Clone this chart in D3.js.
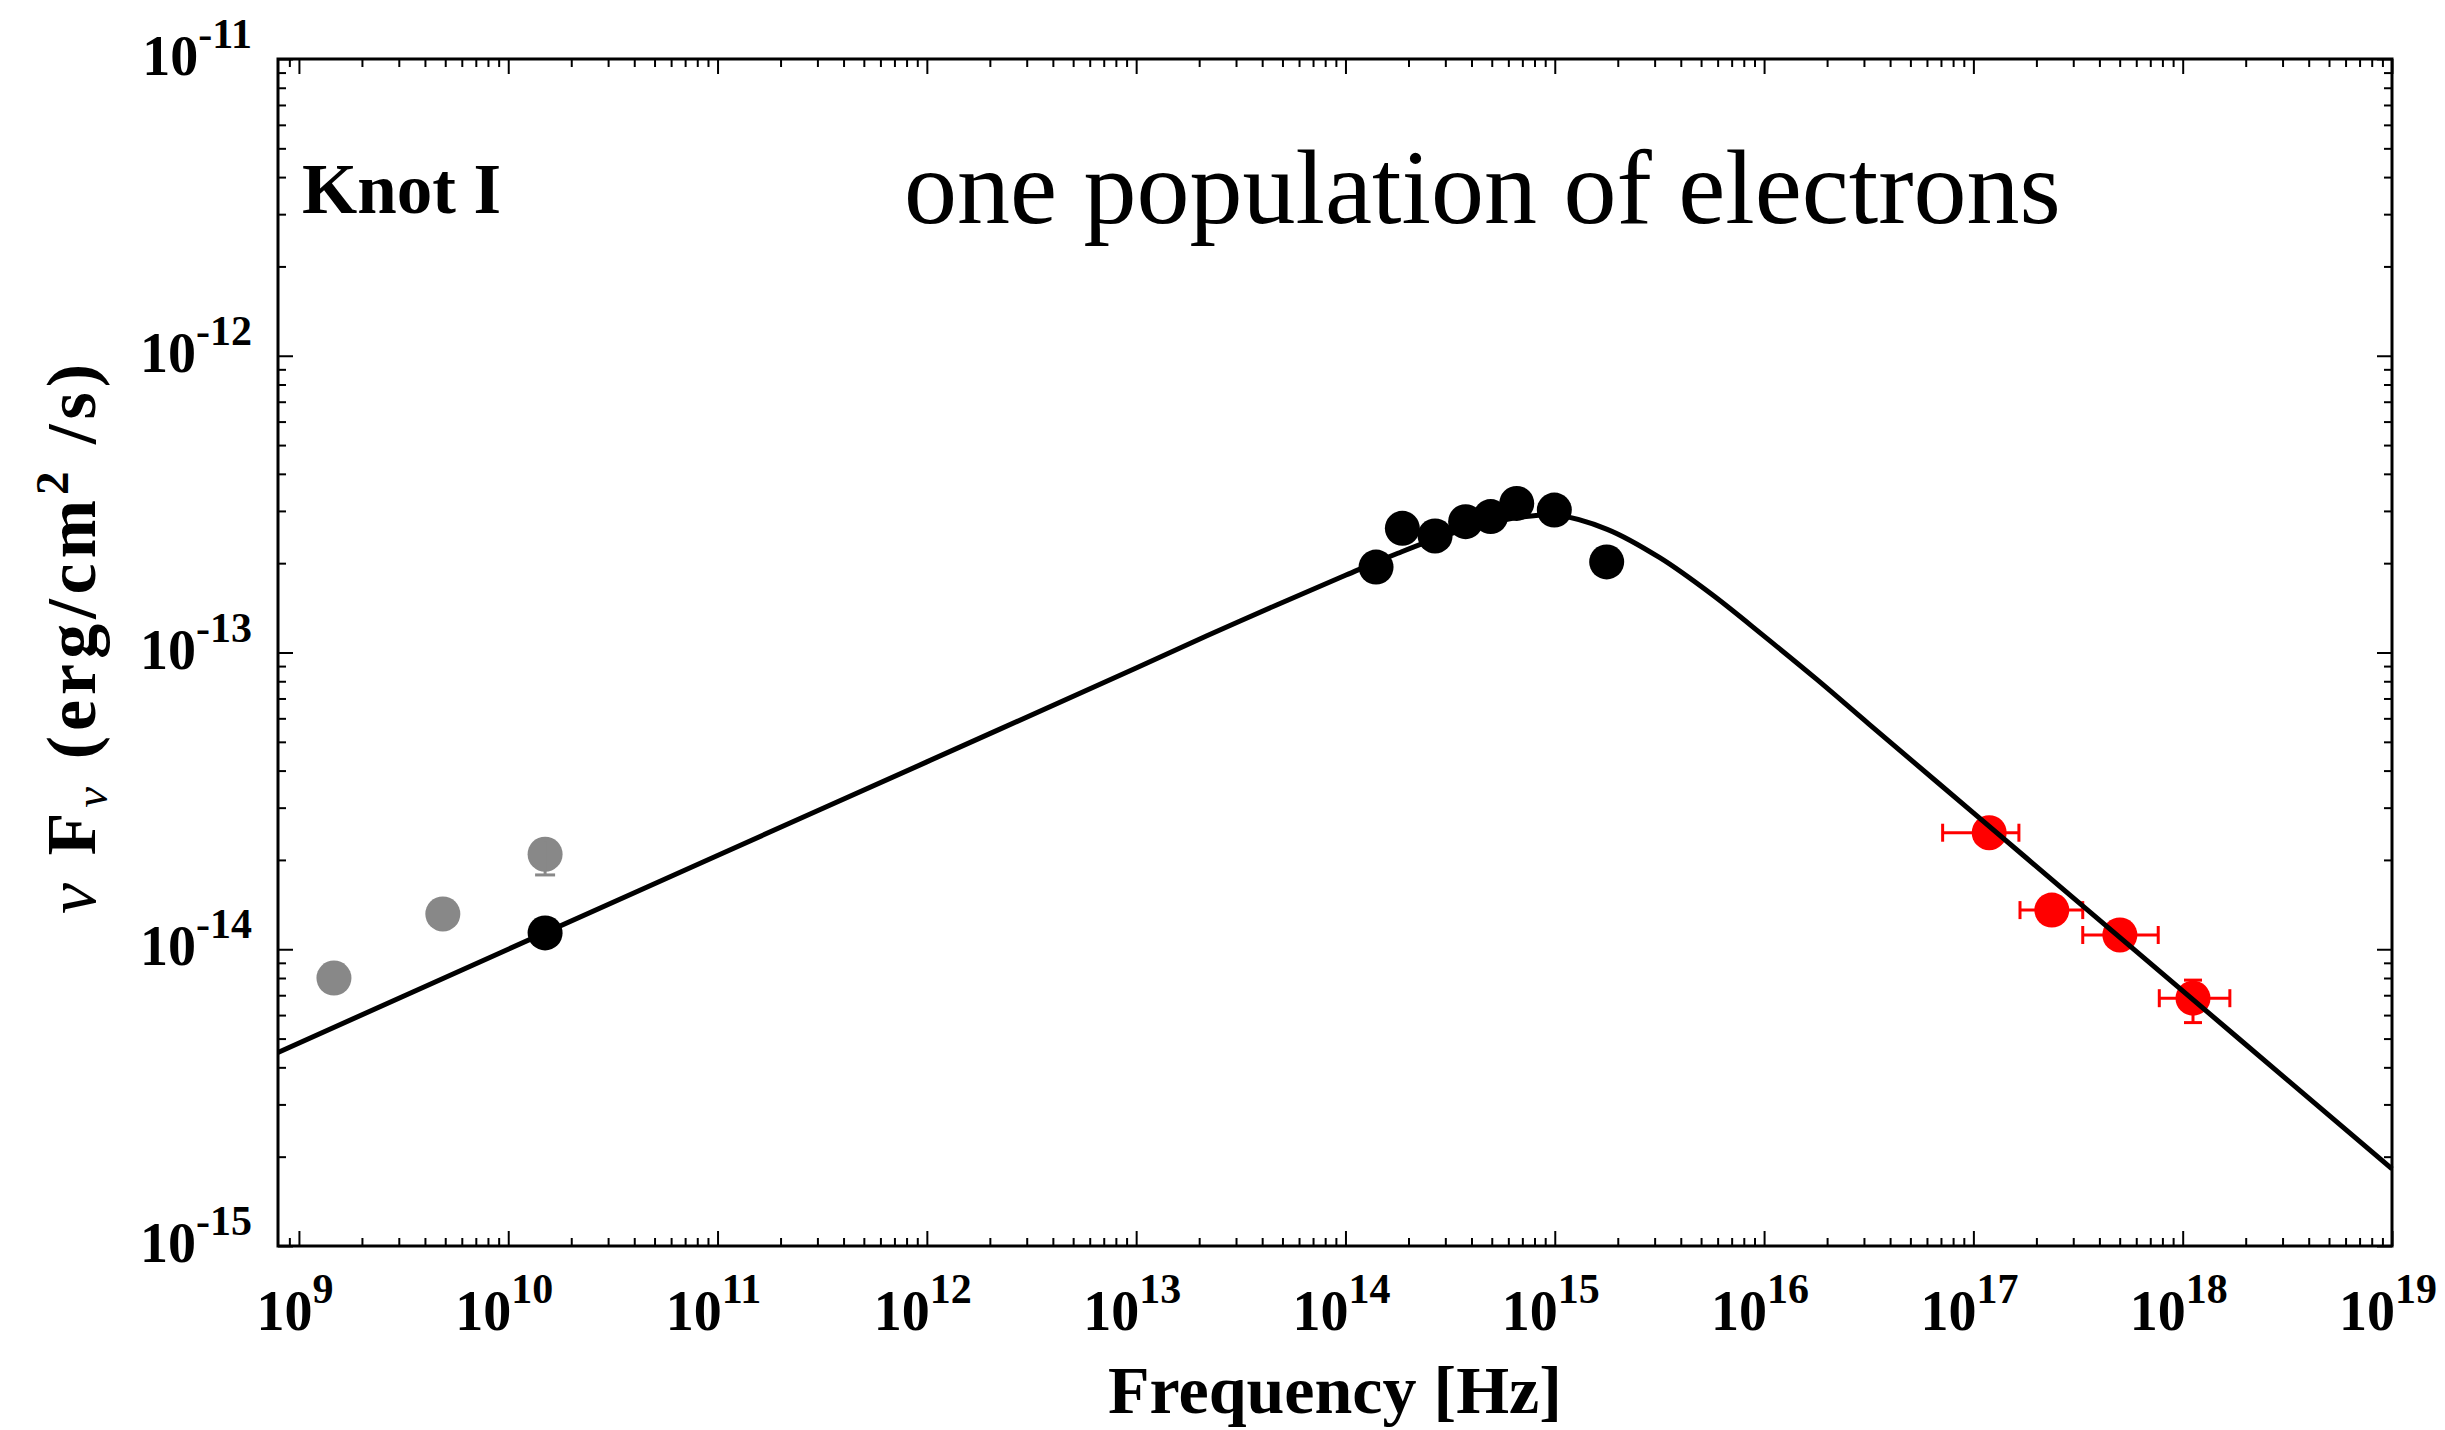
<!DOCTYPE html>
<meta charset="utf-8">
<style>

 body {
  margin: 0;
  background: #fff;
 }

 svg {
  display: block;
 }

 .ticklabel {
  font-family: 'Liberation Serif', 'Times New Roman', serif;
  font-weight: bold;
  font-size: 56px;
  fill: #000;
 }

 .axistitle {
  font-family: 'Liberation Serif', 'Times New Roman', serif;
  font-weight: bold;
  font-size: 68px;
  fill: #000;
 }

 .axis line {
  stroke: #000;
  stroke-width: 2;
 }

 .frame {
  fill: none;
  stroke: #000;
  stroke-width: 3;
 }

 .model {
  fill: none;
  stroke: #000;
  stroke-width: 5;
  stroke-linejoin: round;
 }

</style>
<body>
<script src="https://d3js.org/d3.v7.min.js"></script>
<script>

var width = 2445,
    height = 1430;

// radio points without error (grey) and the one used in the fit (black)
var greyFreq = [1.47e9, 4.87e9, 1.50e10];
var greyFlux = [8.0e-15, 1.315e-14, 2.09e-14];
var greyFluxLo = [null, null, 1.78e-14];
var greyFluxHi = [null, null, 2.30e-14];

var blackFreq = [1.50e10, 1.40e14, 1.87e14, 2.68e14, 3.75e14, 4.94e14, 6.58e14, 9.95e14, 1.77e15];
var blackFlux = [1.135e-14, 1.94e-13, 2.62e-13, 2.47e-13, 2.76e-13, 2.87e-13, 3.18e-13, 3.02e-13, 2.02e-13];

// X-ray (red)
var xrayFreq   = [1.19e17, 2.37e17, 5.01e17, 1.12e18];
var xrayFreqLo = [7.13e16, 1.67e17, 3.33e17, 7.73e17];
var xrayFreqHi = [1.65e17, 3.33e17, 7.64e17, 1.68e18];
var xrayFlux   = [2.47e-14, 1.355e-14, 1.117e-14, 6.84e-15];
var xrayFluxLo = [null, null, null, 5.66e-15];
var xrayFluxHi = [null, null, null, 7.87e-15];

// model curve
var modelFreq = [7.94e8, 1e10, 1e11, 1e12, 1e13, 3.16e13, 1e14, 1.78e14, 3.16e14, 5.62e14, 7.94e14, 1e15,
                 1.78e15, 3.16e15, 5.62e15, 1e16, 1.78e16, 3.16e16, 1e17, 3.16e17, 1e18, 3.16e18, 1e19];
var modelFlux = [4.49e-15, 1.00e-14, 2.07e-14, 4.28e-14, 8.87e-14, 1.28e-13, 1.82e-13, 2.16e-13, 2.51e-13, 2.79e-13, 2.89e-13, 2.91e-13,
                 2.60e-13, 2.09e-13, 1.57e-13, 1.135e-13, 8.13e-14, 5.75e-14, 2.88e-14, 1.445e-14, 7.24e-15, 3.63e-15, 1.82e-15];

var xExponents = [9, 10, 11, 12, 13, 14, 15, 16, 17, 18, 19];
var yExponents = [-11, -12, -13, -14, -15];

var plotLeft = 278, plotRight = 2392, plotTop = 59, plotBottom = 1246;

var x = d3.scaleLog()
    .domain([Math.pow(10, 8.9), 1e19])
    .range([plotLeft, plotRight]);

var y = d3.scaleLog()
    .domain([1e-15, 1e-11])
    .range([plotBottom, plotTop]);

var svg = d3.select("body").append("svg")
    .attr("width", width)
    .attr("height", height);

svg.append("rect")
    .attr("width", width)
    .attr("height", height)
    .attr("fill", "#fff");

// tick values
var xMajor = xExponents.map(function(e) { return Math.pow(10, e); });
var yMajor = yExponents.map(function(e) { return Math.pow(10, e); });
var xMinor = [], yMinor = [];
for (var d = 8; d < 19; d++) {
  for (var m = 2; m < 10; m++) {
    var v = m * Math.pow(10, d);
    if (v > x.domain()[0] * 1.01 && v < 1e19) xMinor.push(v);
  }
}
for (var d = -15; d < -11; d++) {
  for (var m = 2; m < 10; m++) yMinor.push(m * Math.pow(10, d));
}

function addAxis(axis, values, size, transform) {
  var g = svg.append("g")
      .attr("class", "axis")
      .attr("transform", transform)
      .call(axis.tickValues(values).tickSizeInner(-size).tickSizeOuter(0).tickFormat(""));
  g.select(".domain").remove();
}

addAxis(d3.axisBottom(x), xMajor, 15, "translate(0," + plotBottom + ")");
addAxis(d3.axisBottom(x), xMinor, 8, "translate(0," + plotBottom + ")");
addAxis(d3.axisTop(x), xMajor, 15, "translate(0," + plotTop + ")");
addAxis(d3.axisTop(x), xMinor, 8, "translate(0," + plotTop + ")");
addAxis(d3.axisLeft(y), yMajor, 15, "translate(" + plotLeft + ",0)");
addAxis(d3.axisLeft(y), yMinor, 8, "translate(" + plotLeft + ",0)");
addAxis(d3.axisRight(y), yMajor, 15, "translate(" + plotRight + ",0)");
addAxis(d3.axisRight(y), yMinor, 8, "translate(" + plotRight + ",0)");

svg.append("rect")
    .attr("class", "frame")
    .attr("x", plotLeft)
    .attr("y", plotTop)
    .attr("width", plotRight - plotLeft)
    .attr("height", plotBottom - plotTop);

// tick labels: 10 with a superscript
function powLabel(sel, exp) {
  sel.append("tspan").text("10");
  sel.append("tspan").attr("font-size", 42).attr("dy", -27).text(exp);
}

svg.append("g").selectAll("text")
    .data(xExponents)
  .enter().append("text")
    .attr("class", "ticklabel")
    .attr("text-anchor", "middle")
    .attr("x", function(e) { return x(Math.pow(10, e)) - 4; })
    .attr("y", plotBottom + 84)
    .each(function(e) { powLabel(d3.select(this), e); });

svg.append("g").selectAll("text")
    .data(yExponents)
  .enter().append("text")
    .attr("class", "ticklabel")
    .attr("text-anchor", "end")
    .attr("x", plotLeft - 26)
    .attr("y", function(e) { return y(Math.pow(10, e)) + 16; })
    .each(function(e) { powLabel(d3.select(this), e); });

// axis titles
svg.append("text")
    .attr("class", "axistitle")
    .attr("text-anchor", "middle")
    .attr("x", (plotLeft + plotRight) / 2)
    .attr("y", 1413)
    .text("Frequency [Hz]");

var yt = svg.append("text")
    .attr("class", "axistitle")
    .attr("text-anchor", "middle")
    .attr("letter-spacing", 5)
    .style("font-size", "70px")
    .attr("transform", "translate(95," + ((plotTop + plotBottom) / 2 - 16) + ") rotate(-90)");
yt.append("tspan").attr("font-style", "italic").attr("font-weight", "normal").text("ν");
yt.append("tspan").text(" F");
yt.append("tspan").attr("font-style", "italic").attr("font-weight", "normal").attr("font-size", 47).attr("dy", 12).text("ν");
yt.append("tspan").attr("dy", -12).text("  (erg/cm");
yt.append("tspan").attr("font-size", 47).attr("dy", -27).text("2");
yt.append("tspan").attr("dy", 27).text(" /s)");

// labels inside the plot
svg.append("text")
    .attr("x", 302)
    .attr("y", 213)
    .style("font-family", "'Liberation Serif', serif")
    .style("font-weight", "bold")
    .style("font-size", "71px")
    .text("Knot I");

svg.append("text")
    .attr("x", 904)
    .attr("y", 223)
    .style("font-family", "'Liberation Serif', 'Times New Roman', serif")
    .style("font-size", "106px")
    .text("one population of electrons");

var r = 17.5;

// grey points and error bar
var greyIdx = d3.range(greyFreq.length);
svg.append("g").selectAll("circle")
    .data(greyIdx)
  .enter().append("circle")
    .attr("cx", function(i) { return x(greyFreq[i]); })
    .attr("cy", function(i) { return y(greyFlux[i]); })
    .attr("r", r)
    .attr("fill", "#888");

var greyErr = svg.append("g")
    .attr("stroke", "#888")
    .attr("stroke-width", 3)
    .selectAll("g")
    .data(greyIdx.filter(function(i) { return greyFluxLo[i] !== null; }))
  .enter().append("g");
greyErr.append("line")
    .attr("x1", function(i) { return x(greyFreq[i]); })
    .attr("x2", function(i) { return x(greyFreq[i]); })
    .attr("y1", function(i) { return y(greyFluxLo[i]); })
    .attr("y2", function(i) { return y(greyFluxHi[i]); });
greyErr.append("line")
    .attr("x1", function(i) { return x(greyFreq[i]) - 10; })
    .attr("x2", function(i) { return x(greyFreq[i]) + 10; })
    .attr("y1", function(i) { return y(greyFluxLo[i]); })
    .attr("y2", function(i) { return y(greyFluxLo[i]); });

// black points
svg.append("g").selectAll("circle")
    .data(d3.range(blackFreq.length))
  .enter().append("circle")
    .attr("cx", function(i) { return x(blackFreq[i]); })
    .attr("cy", function(i) { return y(blackFlux[i]); })
    .attr("r", r)
    .attr("fill", "#000");

// X-ray points
var xrayIdx = d3.range(xrayFreq.length);
var xe = svg.append("g")
    .attr("stroke", "#f00")
    .attr("stroke-width", 3);

xe.selectAll(".hbar").data(xrayIdx)
  .enter().append("line")
    .attr("class", "hbar")
    .attr("x1", function(i) { return x(xrayFreqLo[i]); })
    .attr("x2", function(i) { return x(xrayFreqHi[i]); })
    .attr("y1", function(i) { return y(xrayFlux[i]); })
    .attr("y2", function(i) { return y(xrayFlux[i]); });

xe.selectAll(".hcap").data(xrayIdx.map(function(i) { return [i, xrayFreqLo[i]]; })
      .concat(xrayIdx.map(function(i) { return [i, xrayFreqHi[i]]; })))
  .enter().append("line")
    .attr("class", "hcap")
    .attr("x1", function(d) { return x(d[1]); })
    .attr("x2", function(d) { return x(d[1]); })
    .attr("y1", function(d) { return y(xrayFlux[d[0]]) - 9; })
    .attr("y2", function(d) { return y(xrayFlux[d[0]]) + 9; });

var vIdx = xrayIdx.filter(function(i) { return xrayFluxLo[i] !== null; });
xe.selectAll(".vbar").data(vIdx)
  .enter().append("line")
    .attr("class", "vbar")
    .attr("x1", function(i) { return x(xrayFreq[i]); })
    .attr("x2", function(i) { return x(xrayFreq[i]); })
    .attr("y1", function(i) { return y(xrayFluxLo[i]); })
    .attr("y2", function(i) { return y(xrayFluxHi[i]); });

xe.selectAll(".vcap").data(vIdx.map(function(i) { return [i, xrayFluxLo[i]]; })
      .concat(vIdx.map(function(i) { return [i, xrayFluxHi[i]]; })))
  .enter().append("line")
    .attr("class", "vcap")
    .attr("x1", function(d) { return x(xrayFreq[d[0]]) - 9; })
    .attr("x2", function(d) { return x(xrayFreq[d[0]]) + 9; })
    .attr("y1", function(d) { return y(d[1]); })
    .attr("y2", function(d) { return y(d[1]); });

svg.append("g").selectAll("circle")
    .data(xrayIdx)
  .enter().append("circle")
    .attr("cx", function(i) { return x(xrayFreq[i]); })
    .attr("cy", function(i) { return y(xrayFlux[i]); })
    .attr("r", r)
    .attr("fill", "#f00");

// model curve on top
var line = d3.line()
    .x(function(i) { return x(modelFreq[i]); })
    .y(function(i) { return y(modelFlux[i]); })
    .curve(d3.curveCatmullRom.alpha(0.5));

svg.append("path")
    .datum(d3.range(modelFreq.length))
    .attr("class", "model")
    .attr("d", line);

</script>
